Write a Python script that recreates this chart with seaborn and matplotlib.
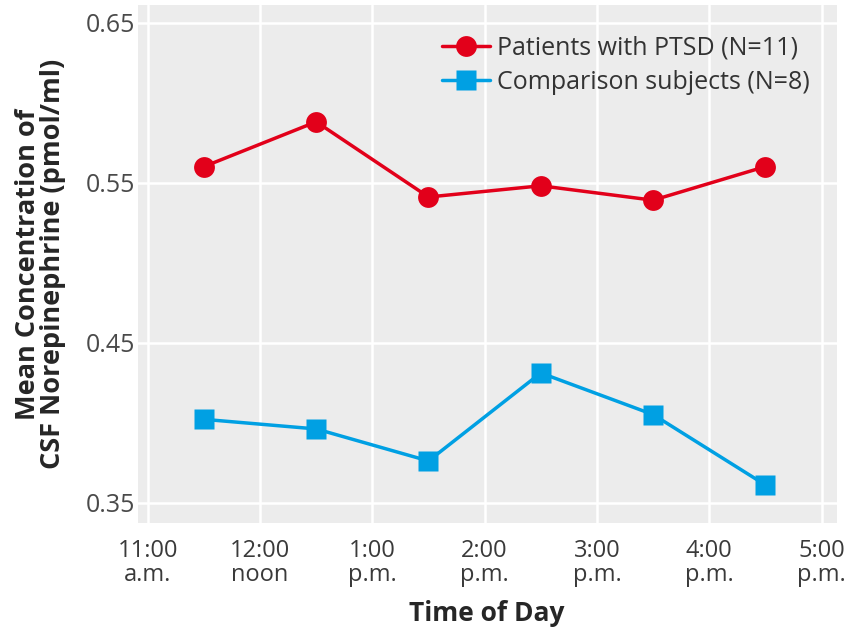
import pandas as pd
import matplotlib
matplotlib.use("Agg")
import matplotlib.pyplot as plt
import seaborn as sns

# hours after midnight (half-hour sampling points)
hours = [11.5, 12.5, 13.5, 14.5, 15.5, 16.5]
ptsd = [0.560, 0.588, 0.541, 0.548, 0.539, 0.560]
comparison = [0.402, 0.396, 0.376, 0.431, 0.405, 0.361]

tick_hours = [11, 12, 13, 14, 15, 16, 17]
tick_labels = ["11:00\na.m.", "12:00\nnoon", "1:00\np.m.", "2:00\np.m.",
               "3:00\np.m.", "4:00\np.m.", "5:00\np.m."]
y_ticks = [0.35, 0.45, 0.55, 0.65]

ptsd_label = "Patients with PTSD (N=11)"
comp_label = "Comparison subjects (N=8)"

df = pd.DataFrame({
    "hour": hours * 2,
    "value": ptsd + comparison,
    "group": [ptsd_label] * len(hours) + [comp_label] * len(hours),
})

sns.set_style("darkgrid", {"axes.facecolor": "#ececec", "grid.color": "white"})
plt.rcParams['font.family'] = ['Open Sans', 'DejaVu Sans']

fig = plt.figure(figsize=(8.45, 6.29), dpi=100)
ax = fig.add_axes([0.163, 0.168, 0.827, 0.824])

palette = {ptsd_label: "#e2001a", comp_label: "#00a0e3"}
markers = {ptsd_label: "o", comp_label: "s"}
sns.lineplot(data=df, x="hour", y="value", hue="group", style="group",
             palette=palette, markers=markers, dashes=False, linewidth=2.5,
             markersize=15, markeredgecolor="none", ax=ax)

ax.set_xlim(11 - 10 / 112, 17 + 15 / 112)
ax.set_ylim(0.337, 0.661)
ax.set_xticks(tick_hours)
ax.set_xticklabels(tick_labels, fontsize=17, color="#3a3a3a", linespacing=1.0)
ax.set_yticks(y_ticks)
ax.set_yticklabels([f"{v:.2f}" for v in y_ticks], fontsize=18, color="#4a4a4a")
ax.tick_params(length=0, pad=2)
ax.tick_params(axis="x", pad=11)
ax.grid(True, color="white", linewidth=1.8)

ax.set_xlabel("Time of Day", fontsize=19, fontweight="bold", va="baseline")
ax.xaxis.set_label_coords(0.5, -0.189)
ax.set_ylabel("Mean Concentration of\nCSF Norepinephrine (pmol/ml)",
              fontsize=19.5, fontweight="bold", linespacing=0.92)
ax.yaxis.set_label_coords(-0.103, 0.5)

leg = ax.legend(loc="upper right", bbox_to_anchor=(0.961, 0.941), frameon=False,
                fontsize=18, handlelength=1.92, handletextpad=0.28,
                borderaxespad=0, borderpad=0, labelspacing=0.36)
for t in leg.get_texts():
    t.set_color("#333333")

for s in ax.spines.values():
    s.set_visible(False)

fig.savefig("out.png", dpi=100)
